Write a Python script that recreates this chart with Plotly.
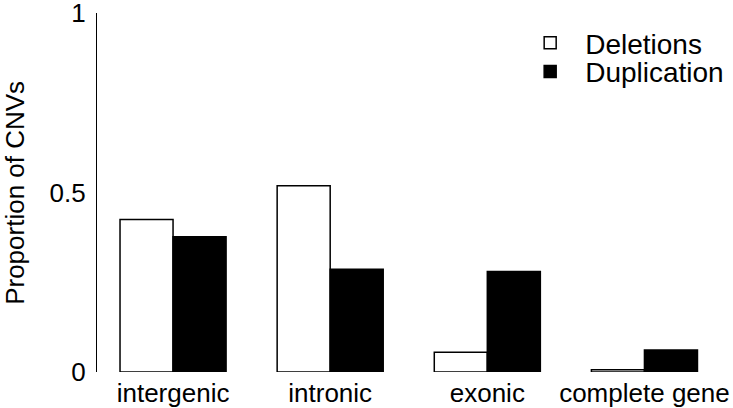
import plotly.graph_objects as go

categories = ["intergenic", "intronic", "exonic", "complete gene"]
deletions = [0.425, 0.519, 0.055, 0.006]
duplication = [0.377, 0.286, 0.280, 0.061]

fig = go.Figure()
fig.add_trace(go.Bar(x=categories, y=deletions, name="Deletions", legend="legend",
                     marker=dict(color="white", line=dict(color="black", width=1.5))))
fig.add_trace(go.Bar(x=categories, y=duplication, name="Duplication", legend="legend2",
                     marker=dict(color="black", line=dict(color="black", width=1.5))))

# one legend per row so the row spacing can match the reference
leg = dict(xanchor="left", yanchor="middle", font=dict(size=28),
           bgcolor="rgba(0,0,0,0)", itemwidth=60, visible=True)
fig.update_layout(
    width=733, height=408,
    margin=dict(l=97, r=10, t=13, b=36, autoexpand=False),
    plot_bgcolor="white", paper_bgcolor="white",
    font=dict(family="Liberation Sans, Arial", size=26, color="black"),
    barmode="group", bargap=0.325, bargroupgap=0,
    showlegend=True,
    legend=dict(leg, x=0.668, y=0.916),
    legend2=dict(leg, x=0.668, y=0.836),
)
fig.update_xaxes(range=[-0.484, 3.5], showline=False, ticks="", showgrid=False,
                 automargin=False, tickfont=dict(size=26), ticklabelstandoff=3,
                 ticklabeloverflow="allow", tickangle=0)
fig.update_yaxes(range=[0, 1], tickvals=[0, 0.5, 1], ticktext=["0", "0.5", "1"],
                 showline=True, linecolor="black", linewidth=1.2, showgrid=False,
                 zeroline=False, ticks="", ticklabelstandoff=5, automargin=False,
                 tickfont=dict(size=26), ticklabeloverflow="allow")
fig.add_annotation(text="Proportion of CNVs", textangle=-90, font=dict(size=26),
                   xref="paper", yref="paper", x=-0.132, y=0.5,
                   xanchor="center", yanchor="middle", showarrow=False)

fig.write_html("out.html", config={"displayModeBar": False},
               post_script="document.body.style.margin='0';")
